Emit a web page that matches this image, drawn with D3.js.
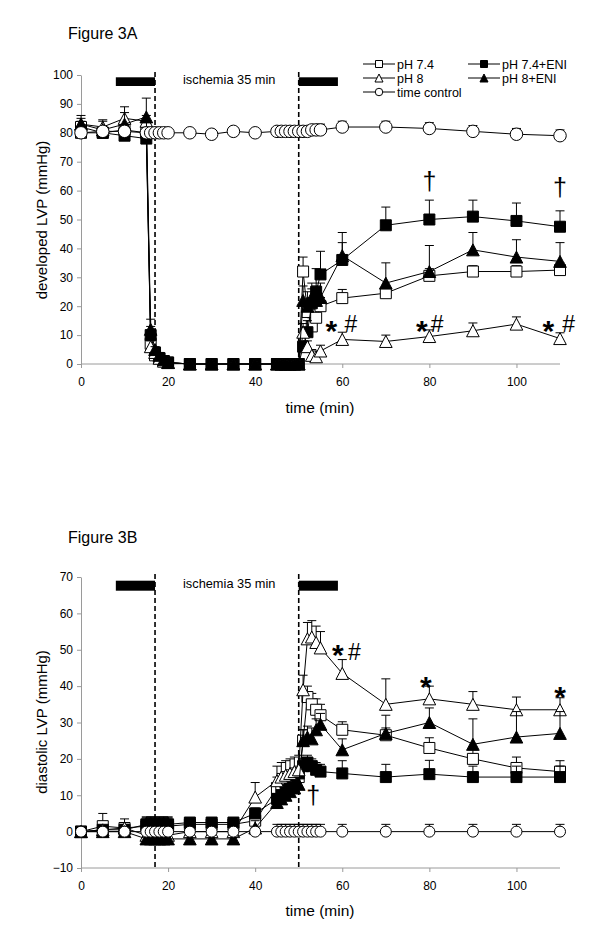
<!DOCTYPE html>
<html><head><meta charset="utf-8">
<script src="https://cdn.jsdelivr.net/npm/d3@7"></script>
<style>
body{margin:0;background:#fff}
svg{display:block}
text{font-family:"Liberation Sans",Arial,sans-serif;fill:#000}
</style>
</head><body>
<svg id="c" width="600" height="940"></svg>
<script>
// ---------- data ----------
const seriesNames = ["pH 7.4", "pH 7.4+ENI", "pH 8", "pH 8+ENI", "time control"];
const times = [0,5,10,15, 16,17,18,19,20, 25,30,35,40, 45,46,47,48,49,50, 51,52,53,54,55, 60,70,80,90,100,110];
const xTicks = [0,20,40,60,80,100];
const yTicksA = [0,10,20,30,40,50,60,70,80,90,100];
const yTicksB = [-10,0,10,20,30,40,50,60,70];
const ischemiaBars = [[8,17],[50,59]];
const ischemiaLines = [17,50];
const ischemiaLabel = "ischemia 35 min";

// Figure 3A: developed LVP (mmHg)
const a_ph74   = [82,80,81,80, 7,3,2,1,0.5, 0,0,0,0, 0,0,0,0,0,0, 32,18,13,16,20, 22.8,24.5,30.5,32,32,32.5];
const a_ph74e  = [80,80,79,78, 10,4,2,1,0.5, 0,0,0,0, 0,0,0,0,0,0, 6,11,21,25,31, 36,48,50,51,49.5,47.5];
const a_ph8    = [83,82,85,84, 6,4,2,1,0.5, 0,0,0,0, 0,0,0,0,0,0, 11,6,3,2.5,4.5, 8.5,7.8,9.5,11.5,13.8,8.8];
const a_ph8e   = [83,81,83,85.5, 12,5,3,1.5,0.5, 0,0,0,0, 0,0,0,0,0,0, 22,20,23,22,23, 37.5,28,32,39.5,37,35.5];
const a_tc     = [80,80.5,80.5,80, 80,80,80,80,80, 80,79.5,80.5,80, 80.5,80.5,80.5,80.5,80.5,80.5, 80.5,80.5,81,81,81, 82,82,81.5,80.5,79.5,79];
const a_ph74_err  = [2,2,2,2, 1,1,1,1,0.5, 0,0,0,0, 0,0,0,0,0,0, 5,3,3,3,3, 3,2,2.5,2,2,2.5];
const a_ph74e_err = [2,2,2,2, 3,1,1,1,0.5, 0,0,0,0, 0,0,0,0,0,0, 2,4,5,8,8, 9.5,6.3,6.7,5.7,6.2,5.5];
const a_ph8_err   = [2,2,2,2, 2,1,1,1,0.5, 0,0,0,0, 0,0,0,0,0,0, 3,2,2,2,2, 2.5,2.2,2.3,2.7,2.5,2];
const a_ph8e_err  = [3,3.5,6,6.5, 3.5,1,1,1,0.5, 0,0,0,0, 0,0,0,0,0,0, 5,5,5,5,5, 4.5,7,9,6,6,6.5];
const a_tc_err    = [1.5,1.5,1.5,1.5, 1,1,1,1,1, 1,1,1,1, 1,1,1,1,1,1, 1,1,1,1,2, 2,2,2,2,2,2];

// Figure 3B: diastolic LVP (mmHg)
const b_ph74   = [0,1.5,1,1.5, 1.5,1.5,1.5,1.5,1.5, 2,2,2,3, 12,13,13.5,14,14.5,15, 25,37,35,33.5,32, 28,26.5,23,20,17.5,16.5];
const b_ph74e  = [0,0.5,0.5,2, 2,2,2,2,2, 2.5,2.5,2.5,5, 9,10,11.5,13,14,16, 18,19,18,17,16.5, 16,15,15.8,15,15,15];
const b_ph8    = [0,0.5,1,-1, -1,-1,-1,-1,-1, 0,0,0,9.5, 14,15,15.5,16,16.5,17, 39,53,53.5,52,50.5, 43.5,35,36.5,35,33.5,33.5];
const b_ph8e   = [0,0,0,-2, -2,-2,-2,-2,-2, -2,-2,-2,1, 8,9,10,11,12,13, 25,26,25.5,28,29.5, 22.5,27,30,24,26,27];
const b_tc     = [0,0,0,0, 0,0,0,0,0, 0,0,0,0, 0,0,0,0,0,0, 0,0,0,0,0, 0,0,0,0,0,0];
const b_ph74_err  = [1,3.5,2.5,2, 2,2,2,2,2, 1,1,1,2, 3,3,3,3,3,3, 3,3,3,3,3, 2.2,2,2.8,2.5,3,3];
const b_ph74e_err = [1,1,1,2, 2,2,2,2,2, 1,1,1,1.5, 1,1,1,1,1,1, 2,2,2,2,2, 3.5,3.5,3.8,3,3,3];
const b_ph8_err   = [1,1,1,5, 5,5,5,5,5, 1,1,1,4, 4,4,4,4,4,4, 4,4.5,4.5,4.5,4.5, 3.8,7,3.5,3.5,3.5,3.3];
const b_ph8e_err  = [1,1,1,3, 3,3,3,3,3, 1,1,1,2, 2,2,2,2,2,2, 3,3,3,3,3, 3,5,4,7,7,6];
const b_tc_err    = [1,1,1,1, 1,1,1,1,1, 1,1,1,1, 2,2,2,2,2,2, 2,2,2,2,2, 2,2,2,2,2,2];

// annotations: [time, value, text, kind]
const annotA = [[80,63,"†","dag"],[110,61,"†","dag"],
  [57.5,14,"*","ast"],[62,14,"#","hash"],[78.3,14,"*","ast"],[81.8,14,"#","hash"],
  [107.3,14,"*","ast"],[112,14,"#","hash"]];
const annotB = [[59,50.5,"*","ast"],[62.8,49.5,"#","hash"],[79.2,41.8,"*","ast"],[110,38.8,"*","ast"],[53.3,9.7,"†","dag"]];

// ---------- drawing ----------
const svg = d3.select("#c");
const x = d3.scaleLinear().domain([0,110]).range([81,560]);
const shapes = ["square","square","triangle","triangle","circle"];
const fills = ["#fff","#000","#fff","#000","#fff"];

function markerPath(shape, s){
  if(shape==="square") return `M${-s/2},${-s/2}h${s}v${s}h${-s}Z`;
  if(shape==="triangle"){ const w=s*1.15, h=s*1.0; return `M0,${-h/2-0.5}L${w/2},${h/2+0.5}L${-w/2},${h/2+0.5}Z`; }
  return null;
}
function drawMarker(g, shape, fill, cx, cy, s){
  if(shape==="circle"){
    g.append("circle").attr("cx",cx).attr("cy",cy).attr("r",s/2).attr("fill",fill).attr("stroke","#000").attr("stroke-width",1);
  } else {
    g.append("path").attr("d",markerPath(shape,s)).attr("transform",`translate(${cx},${cy})`)
      .attr("fill",fill).attr("stroke","#000").attr("stroke-width",1);
  }
}

function panel(P){
  const y = d3.scaleLinear().domain(P.yDomain).range(P.yRange);
  const g = svg.append("g");
  g.append("text").attr("x",68).attr("y",P.titleY).style("font-size","16px").text(P.title);

  const ya = g.append("g").attr("transform",`translate(${x(0)},0)`)
    .call(d3.axisLeft(y).tickValues(P.yTicks).tickSize(4).tickSizeOuter(0).tickPadding(4));
  const xa = g.append("g").attr("transform",`translate(0,${P.yRange[0]})`)
    .call(d3.axisBottom(x).tickValues(xTicks).tickSize(4).tickSizeOuter(0).tickPadding(9));
  [ya,xa].forEach(a=>{
    a.select(".domain").attr("stroke","#9a9a9a");
    a.selectAll(".tick line").attr("stroke","#9a9a9a");
    a.selectAll(".tick text").style("font-size","12px").style("font-family",'"Liberation Sans",Arial,sans-serif').attr("fill","#000");
  });
  xa.select(".domain").attr("d",`M${x(0)},0H${x(110)}`);

  g.append("text").attr("transform",`translate(47,${P.yTitleY}) rotate(-90)`).attr("text-anchor","middle")
    .style("font-size","15px").text(P.yTitle);
  g.append("text").attr("x",320).attr("y",P.xTitleY).attr("text-anchor","middle").style("font-size","15.5px").text("time (min)");

  ischemiaBars.forEach(b=>{
    g.append("rect").attr("x",x(b[0])).attr("width",x(b[1])-x(b[0]))
      .attr("y",P.yRange[1]+P.barOff).attr("height",P.barH).attr("fill","#000");
  });
  ischemiaLines.forEach(t=>{
    g.append("line").attr("x1",x(t)).attr("x2",x(t)).attr("y1",P.yRange[1]-3).attr("y2",P.yRange[0])
      .attr("stroke","#000").attr("stroke-width",1.6).attr("stroke-dasharray","5,3");
  });
  g.append("text").attr("x",183).attr("y",P.yRange[1]+P.labelOff).style("font-size","12.8px").text(ischemiaLabel);

  const line = d3.line().x(d=>x(d[0])).y(d=>y(d[1]));
  P.series.forEach((vals,i)=>{
    const errs = P.errs[i];
    const pts = times.map((t,k)=>[t,vals[k],errs[k]]);
    const sg = g.append("g");
    sg.append("path").attr("d",line(pts)).attr("fill","none").attr("stroke","#000").attr("stroke-width",1);
    pts.forEach(p=>{
      if(!p[2]) return;
      const cx=x(p[0]), y0=y(p[1]), y1=y(p[1]+p[2]);
      sg.append("line").attr("x1",cx).attr("x2",cx).attr("y1",y0).attr("y2",y1).attr("stroke","#000").attr("stroke-width",1);
      sg.append("line").attr("x1",cx-4.5).attr("x2",cx+4.5).attr("y1",y1).attr("y2",y1).attr("stroke","#000").attr("stroke-width",1);
    });
    pts.forEach(p=>drawMarker(sg,shapes[i],fills[i],x(p[0]),y(p[1]),shapes[i]==="circle"?P.circ:P.msize));
  });

  P.annot.forEach(a=>{
    const cx=x(a[0]), cy=y(a[1]);
    if(a[3]==="ast") g.append("text").attr("x",cx).attr("y",cy+17).attr("text-anchor","middle").style("font-size","30px").style("font-weight","bold").text(a[2]);
    else if(a[3]==="hash") g.append("text").attr("x",cx).attr("y",cy+8.5).attr("text-anchor","middle").style("font-size","23px").text(a[2]);
    else g.append("text").attr("x",cx).attr("y",cy+8).attr("text-anchor","middle").style("font-size","25px").text(a[2]);
  });
  return y;
}

panel({title:"Figure 3A", titleY:39, yDomain:[0,100], yRange:[364,75], yTicks:yTicksA,
  yTitle:"developed LVP (mmHg)", yTitleY:220, xTitleY:413, barOff:2.3, barH:8.7, labelOff:9,
  series:[a_ph74,a_ph74e,a_ph8,a_ph8e,a_tc], errs:[a_ph74_err,a_ph74e_err,a_ph8_err,a_ph8e_err,a_tc_err],
  msize:11, circ:12.5, annot:annotA});

panel({title:"Figure 3B", titleY:543, yDomain:[-10,70], yRange:[868,577], yTicks:yTicksB,
  yTitle:"diastolic LVP (mmHg)", yTitleY:722, xTitleY:916, barOff:3.7, barH:10, labelOff:11,
  series:[b_ph74,b_ph74e,b_ph8,b_ph8e,b_tc], errs:[b_ph74_err,b_ph74e_err,b_ph8_err,b_ph8e_err,b_tc_err],
  msize:11, circ:11, annot:annotB});

// legend (Figure 3A)
const legend = svg.append("g");
const legPos = [[363,64],[468,64],[363,78],[468,78],[363,92]];
seriesNames.forEach((n,i)=>{
  const [lx,ly]=legPos[i];
  legend.append("line").attr("x1",lx).attr("x2",lx+32).attr("y1",ly).attr("y2",ly).attr("stroke","#000").attr("stroke-width",1);
  drawMarker(legend,shapes[i],fills[i],lx+16,ly,shapes[i]==="circle"?7.5:7);
  legend.append("text").attr("x",lx+34).attr("y",ly+4.5).style("font-size","12.5px").text(n);
});
</script>
</body></html>
